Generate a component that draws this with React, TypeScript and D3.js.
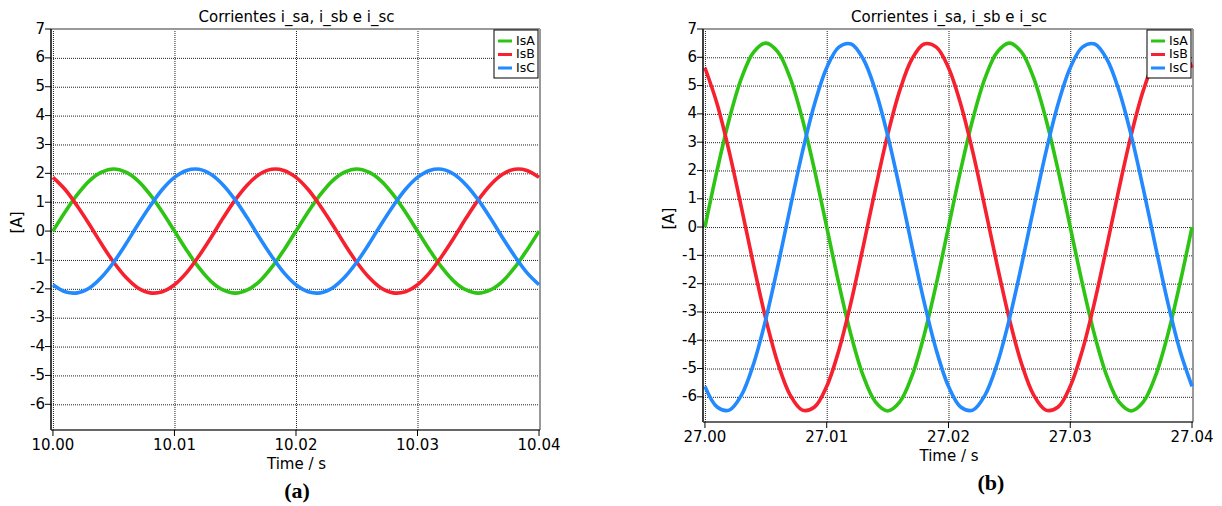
import React from "react";
import { scaleLinear, line, curveCatmullRom } from "d3";

// sample offsets (s) from the start of each window, 1 ms apart
const offsets: number[] = Array.from({ length: 41 }, (_, i) => i * 0.001);

// panel (a): t = 10.00 ... 10.04 s
const isA_a = [0, 0.66, 1.26, 1.74, 2.04, 2.15, 2.04, 1.74, 1.26, 0.66, 0, -0.66, -1.26, -1.74, -2.04, -2.15, -2.04, -1.74, -1.26, -0.66,
  0, 0.66, 1.26, 1.74, 2.04, 2.15, 2.04, 1.74, 1.26, 0.66, 0, -0.66, -1.26, -1.74, -2.04, -2.15, -2.04, -1.74, -1.26, -0.66, 0];
const isB_a = [1.86, 1.44, 0.87, 0.23, -0.45, -1.08, -1.6, -1.97, -2.14, -2.1, -1.86, -1.44, -0.87, -0.23, 0.45, 1.08, 1.6, 1.97, 2.14, 2.1,
  1.86, 1.44, 0.87, 0.23, -0.45, -1.08, -1.6, -1.97, -2.14, -2.1, -1.86, -1.44, -0.87, -0.23, 0.45, 1.08, 1.6, 1.97, 2.14, 2.1, 1.86];
const isC_a = [-1.86, -2.1, -2.14, -1.97, -1.6, -1.08, -0.45, 0.23, 0.87, 1.44, 1.86, 2.1, 2.14, 1.97, 1.6, 1.08, 0.45, -0.23, -0.87, -1.44,
  -1.86, -2.1, -2.14, -1.97, -1.6, -1.08, -0.45, 0.23, 0.87, 1.44, 1.86, 2.1, 2.14, 1.97, 1.6, 1.08, 0.45, -0.23, -0.87, -1.44, -1.86];

// panel (b): t = 27.00 ... 27.04 s
const isA_b = [0, 2.01, 3.82, 5.26, 6.18, 6.5, 6.18, 5.26, 3.82, 2.01, 0, -2.01, -3.82, -5.26, -6.18, -6.5, -6.18, -5.26, -3.82, -2.01,
  0, 2.01, 3.82, 5.26, 6.18, 6.5, 6.18, 5.26, 3.82, 2.01, 0, -2.01, -3.82, -5.26, -6.18, -6.5, -6.18, -5.26, -3.82, -2.01, 0];
const isB_b = [5.63, 4.35, 2.65, 0.68, -1.35, -3.25, -4.83, -5.94, -6.47, -6.36, -5.63, -4.35, -2.65, -0.68, 1.35, 3.25, 4.83, 5.94, 6.47, 6.36,
  5.63, 4.35, 2.65, 0.68, -1.35, -3.25, -4.83, -5.94, -6.47, -6.36, -5.63, -4.35, -2.65, -0.68, 1.35, 3.25, 4.83, 5.94, 6.47, 6.36, 5.63];
const isC_b = [-5.63, -6.36, -6.47, -5.94, -4.83, -3.25, -1.35, 0.68, 2.65, 4.35, 5.63, 6.36, 6.47, 5.94, 4.83, 3.25, 1.35, -0.68, -2.65, -4.35,
  -5.63, -6.36, -6.47, -5.94, -4.83, -3.25, -1.35, 0.68, 2.65, 4.35, 5.63, 6.36, 6.47, 5.94, 4.83, 3.25, 1.35, -0.68, -2.65, -4.35, -5.63];

const seriesNames = ["IsA", "IsB", "IsC"];
const colors = ["#2ec414", "#f7202e", "#2389ff"];
const yTicks = [7, 6, 5, 4, 3, 2, 1, 0, -1, -2, -3, -4, -5, -6];
const ticksA = [10.0, 10.01, 10.02, 10.03, 10.04];
const ticksB = [27.0, 27.01, 27.02, 27.03, 27.04];

const font = "DejaVu Sans, Verdana, sans-serif";

type PanelProps = {
  left: number; right: number; top: number; bottom: number;
  t0: number; xTicks: number[]; data: number[][]; tag: string; tagX: number;
};

function Panel({ left, right, top, bottom, t0, xTicks, data, tag, tagX }: PanelProps) {
  const x = scaleLinear().domain([t0 - 0.00016, t0 + 0.04008]).range([left, right]);
  const y = scaleLinear().domain([-6.89, 7]).range([bottom, top]);
  const cx = (left + right) / 2 + 1;
  const path = line<number>()
    .x((_, i) => x(t0 + offsets[i]))
    .y(d => y(d))
    .curve(curveCatmullRom);
  const lx = right - 46, ly = top + 1;
  return (
    <g fontFamily={font}>
      <text x={cx} y={17} textAnchor="middle" dominantBaseline="middle" fontSize={15}>
        Corrientes i_sa, i_sb e i_sc
      </text>
      {/* grid */}
      {yTicks.map(v => (
        <line key={"gy" + v} x1={left} x2={right} y1={y(v) + 0.5} y2={y(v) + 0.5} stroke="#222" strokeWidth={1} strokeDasharray="1,1" />
      ))}
      {xTicks.map(v => (
        <line key={"gx" + v} x1={x(v) + 0.5} x2={x(v) + 0.5} y1={top} y2={bottom} stroke="#222" strokeWidth={1} strokeDasharray="1,1" />
      ))}
      {/* frame top/right */}
      <line x1={left} x2={right} y1={top} y2={top} stroke="#999" strokeWidth={2} />
      <line x1={right} x2={right} y1={top} y2={bottom} stroke="#999" strokeWidth={2} />
      {/* series */}
      <defs>
        <clipPath id={"clip" + tag}>
          <rect x={left} y={top} width={right - left} height={bottom - top} />
        </clipPath>
      </defs>
      <g clipPath={`url(#clip${tag})`}>
        {data.map((s, k) => (
          <path key={k} d={path(s) || ""} fill="none" stroke={colors[k]} strokeWidth={3.6} />
        ))}
      </g>
      {/* axes */}
      <line x1={left} x2={left} y1={top} y2={bottom} stroke="#000" strokeWidth={1.5} />
      <line x1={left} x2={right} y1={bottom} y2={bottom} stroke="#333" strokeWidth={1.5} />
      {yTicks.map(v => (
        <g key={"ty" + v}>
          <line x1={left - 6} x2={left} y1={y(v)} y2={y(v)} stroke="#000" strokeWidth={1} />
          <text x={left - 6} y={y(v)} textAnchor="end" dominantBaseline="middle" fontSize={15}>{v}</text>
        </g>
      ))}
      {xTicks.map(v => (
        <g key={"tx" + v}>
          <line x1={x(v)} x2={x(v)} y1={bottom} y2={bottom + 6} stroke="#000" strokeWidth={1} />
          <text x={x(v)} y={bottom + 15} textAnchor="middle" dominantBaseline="middle" fontSize={15}>{v.toFixed(2)}</text>
        </g>
      ))}
      <text x={cx} y={bottom + 34} textAnchor="middle" dominantBaseline="middle" fontSize={15}>Time / s</text>
      <text transform={`translate(${left - 34},${y(0.3)}) rotate(-90)`} textAnchor="middle" dominantBaseline="middle" fontSize={15}>[A]</text>
      <text x={tagX} y={bottom + 63} textAnchor="middle" dominantBaseline="middle" fontSize={22} fontWeight="bold"
        fontFamily="Liberation Serif, Times New Roman, serif">{tag}</text>
      {/* legend */}
      <rect x={lx} y={ly} width={44} height={48} fill="#fff" stroke="#000" strokeWidth={1} />
      {seriesNames.map((n, k) => (
        <g key={n}>
          <line x1={lx + 4} x2={lx + 18} y1={ly + 11 + k * 13.5} y2={ly + 11 + k * 13.5} stroke={colors[k]} strokeWidth={3} />
          <text x={lx + 22} y={ly + 11 + k * 13.5} dominantBaseline="middle" fontSize={12.5}>{n}</text>
        </g>
      ))}
    </g>
  );
}

export default function App() {
  return (
    <svg width={1222} height={506} style={{ position: "absolute", left: 0, top: 0, background: "#fff" }}>
      <rect width={1222} height={506} fill="#fff" />
      <Panel left={51} right={540} top={29} bottom={430} t0={10.0} xTicks={ticksA}
        data={[isA_a, isB_a, isC_a]} tag="(a)" tagX={297} />
      <Panel left={703} right={1193} top={29} bottom={422} t0={27.0} xTicks={ticksB}
        data={[isA_b, isB_b, isC_b]} tag="(b)" tagX={991} />
    </svg>
  );
}
